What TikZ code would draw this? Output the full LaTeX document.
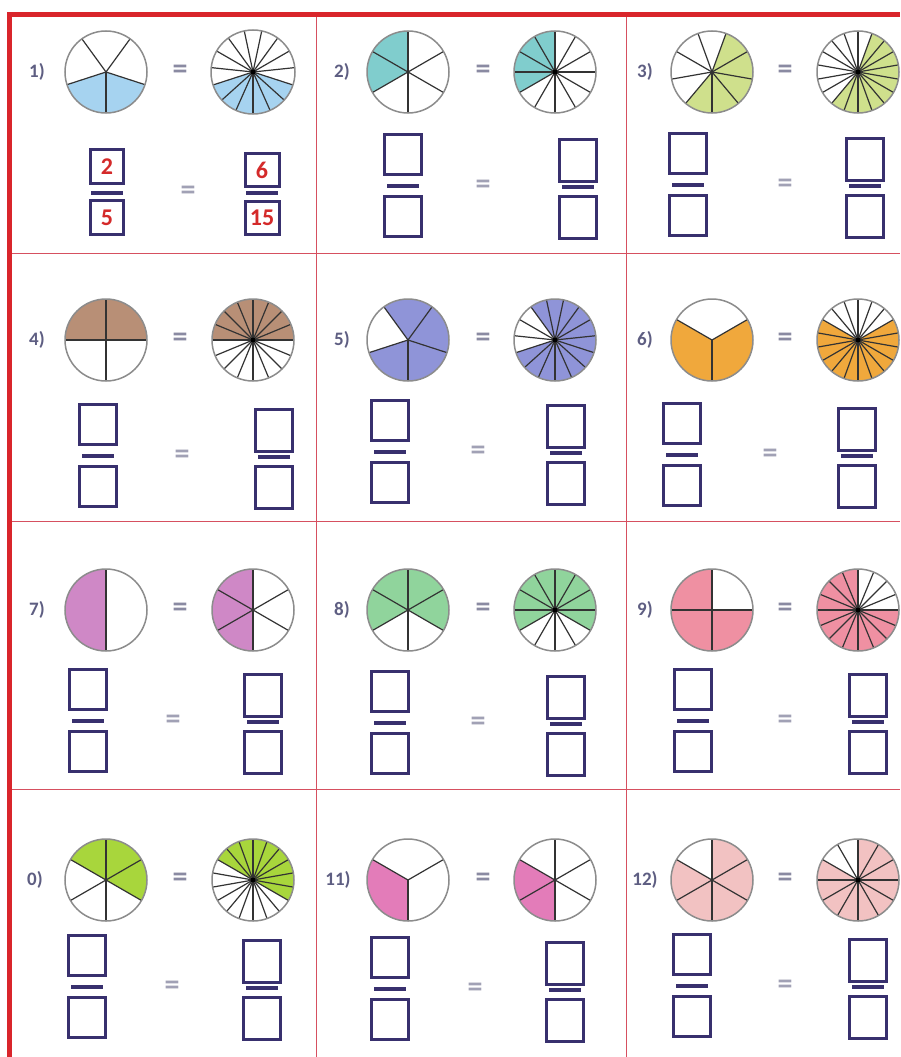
\documentclass[tikz,border=0pt]{standalone}
\usepackage{fontspec}
\setmainfont{Carlito}
\definecolor{framered}{HTML}{D9252B}
\definecolor{gridred}{HTML}{D65060}
\definecolor{navy}{HTML}{38306E}
\definecolor{lblc}{HTML}{5E5E82}
\definecolor{eqc}{HTML}{8A8AA2}
\definecolor{numred}{HTML}{D42A2A}
\definecolor{cA}{HTML}{A6D3F0}
\definecolor{cB}{HTML}{80CDCD}
\definecolor{cC}{HTML}{CFE08C}
\definecolor{cD}{HTML}{B88F76}
\definecolor{cE}{HTML}{8F94D8}
\definecolor{cF}{HTML}{F0A83C}
\definecolor{cG}{HTML}{CF88C6}
\definecolor{cH}{HTML}{90D49C}
\definecolor{cI}{HTML}{EF90A2}
\definecolor{cJ}{HTML}{A8D63C}
\definecolor{cK}{HTML}{E37CB9}
\definecolor{cL}{HTML}{F2C2C2}
\tikzset{
  sector/.style={draw=black!80, line width=1.2pt},
  rim/.style={draw=black!45, line width=1.5pt},
  fbox/.style={draw=navy, line width=3pt, inner sep=0pt, text=numred,
    font=\bfseries\fontsize{24}{24}\selectfont},
  fbar/.style={draw=navy, line width=3.5pt},
  lbl/.style={text=lblc, font=\bfseries\fontsize{19}{19}\selectfont},
  eqsign/.style={text=eqc, font=\bfseries\fontsize{30}{30}\selectfont, inner sep=0pt},
  eqsoft/.style={text=eqc!80, font=\bfseries\fontsize{30}{30}\selectfont, inner sep=0pt}
}
% #1 cx, #2 cy, #3 r, #4 n, #5 start, #6 shade from, #7 shade to, #8 colour
\newcommand\mypie[8]{%
  \fill[#8] (#1,#2) -- ++({-(#6)}:#3) arc[start angle={-(#6)}, end angle={-(#7)}, radius=#3] -- cycle;
  \foreach \k in {1,...,#4}{\draw[sector] (#1,#2) -- ++({-(#5+\k*360/#4)}:#3);}
  \ifnum#4>9 \fill[black] (#1,#2) circle[radius=2.5];\fi
  \draw[rim] (#1,#2) circle[radius=#3];
}
% #1 name, #2 x, #3 bar y, #4 outer W, #5 outer H, #6 gap top, #7 gap bottom, #8 top text, #9 bottom text
\newcommand\myfrac[9]{%
  \node[fbox, minimum width={#4-3}, minimum height={#5-3}] (#1t) at (#2,{#3-#6-#5/2}) {#8};
  \node[fbox, minimum width={#4-3}, minimum height={#5-3}] (#1b) at (#2,{#3+#7+#5/2}) {#9};
  \draw[fbar] ({#2-16},#3) -- ({#2+16},#3);
}
% generic cell: #1 name, #2 left x, #3 right x, #4 bar y, #5 eq x
\newcommand\mycell[5]{%
  \myfrac{#1l}{#2}{#4}{40}{43}{10}{9}{}{}
  \myfrac{#1r}{#3}{#4+1}{40}{45}{4}{8}{}{}
  \node[eqsoft] (#1eq) at (#5,{#4+1}) {=};
}
\begin{document}
\begin{tikzpicture}[x=1pt,y=-1pt]
\useasboundingbox (0,0) rectangle (900,1057);
\fill[white] (0,0) rectangle (900,1057);
\begin{scope}
\clip (0,0) rectangle (900,1057);
% grid
\draw[gridred, line width=1pt] (316,15) -- (316,1057);
\draw[gridred, line width=1pt] (626,15) -- (626,1057);
\draw[gridred, line width=1pt] (9,253) -- (900,253);
\draw[gridred, line width=1pt] (9,521) -- (900,521);
\draw[gridred, line width=1pt] (9,789) -- (900,789);
% frame
\draw[framered, line width=5pt] (9.5,1057) -- (9.5,15) -- (900,15);

% ---------- row 1 ----------
\node[lbl] (l1) at (37,72) {1)};
\mypie{106}{72}{41}{5}{270}{198}{342}{cA}
\node[eqsign] (e1) at (180,72) {=};
\mypie{253}{72}{42}{15}{270}{198}{342}{cA}
\myfrac{c1l}{107}{193}{36}{37}{8}{6}{2}{5}
\myfrac{c1r}{262}{193}{37}{36}{5}{7}{6}{15}
\node[eqsoft] (c1eq) at (188,193) {=};

\node[lbl] (l2) at (342,72) {2)};
\mypie{408}{72}{41}{6}{270}{90}{210}{cB}
\node[eqsign] (e2) at (483,72) {=};
\mypie{555}{72}{41}{12}{270}{90}{210}{cB}
\mycell{c2}{403}{578}{186}{483}

\node[lbl] (l3) at (645,72) {3)};
\mypie{712}{72}{41}{9}{270}{230}{430}{cC}
\node[eqsign] (e3) at (785,72) {=};
\mypie{858}{72}{41}{18}{270}{230}{430}{cC}
\mycell{c3}{688}{865}{185}{785}

% ---------- row 2 ----------
\node[lbl] (l4) at (37,340) {4)};
\mypie{106}{340}{41}{4}{0}{0}{180}{cD}
\node[eqsign] (e4) at (180,340) {=};
\mypie{253}{340}{41}{16}{0}{0}{180}{cD}
\mycell{c4}{98}{274}{456}{182}

\node[lbl] (l5) at (342,340) {5)};
\mypie{408}{340}{41}{5}{270}{198}{486}{cE}
\node[eqsign] (e5) at (483,340) {=};
\mypie{555}{340}{41}{15}{270}{198}{486}{cE}
\mycell{c5}{390}{566}{452}{478}

\node[lbl] (l6) at (645,340) {6)};
\mypie{712}{340}{41}{3}{270}{150}{390}{cF}
\node[eqsign] (e6) at (785,340) {=};
\mypie{858}{340}{41}{18}{270}{150}{390}{cF}
\mycell{c6}{682}{857}{455}{770}

% ---------- row 3 ----------
\node[lbl] (l7) at (37,610) {7)};
\mypie{106}{610}{41}{2}{90}{90}{270}{cG}
\node[eqsign] (e7) at (180,610) {=};
\mypie{253}{610}{41}{6}{270}{90}{270}{cG}
\mycell{c7}{88}{263}{721}{173}

\node[lbl] (l8) at (342,610) {8)};
\mypie{408}{610}{41}{6}{270}{-30}{210}{cH}
\node[eqsign] (e8) at (483,610) {=};
\mypie{555}{610}{41}{12}{270}{-30}{210}{cH}
\mycell{c8}{390}{566}{723}{478}

\node[lbl] (l9) at (645,610) {9)};
\mypie{712}{610}{41}{4}{0}{90}{360}{cI}
\node[eqsign] (e9) at (785,610) {=};
\mypie{858}{610}{41}{16}{0}{90}{360}{cI}
\mycell{c9}{693}{868}{721}{785}

% ---------- row 4 ----------
\node[lbl] (l10) at (35,880) {0)};
\mypie{106}{880}{41}{6}{270}{-30}{150}{cJ}
\node[eqsign] (e10) at (180,880) {=};
\mypie{253}{880}{41}{18}{270}{-30}{150}{cJ}
\mycell{c10}{87}{262}{987}{172}

\node[lbl] (l11) at (338,880) {11)};
\mypie{408}{880}{41}{3}{270}{150}{270}{cK}
\node[eqsign] (e11) at (483,880) {=};
\mypie{555}{880}{41}{6}{270}{150}{270}{cK}
\mycell{c11}{390}{565}{989}{475}

\node[lbl] (l12) at (645,880) {12)};
\mypie{712}{880}{41}{6}{270}{150}{450}{cL}
\node[eqsign] (e12) at (785,880) {=};
\mypie{858}{880}{41}{12}{270}{150}{450}{cL}
\mycell{c12}{692}{868}{986}{785}
\end{scope}
\end{tikzpicture}
\end{document}
